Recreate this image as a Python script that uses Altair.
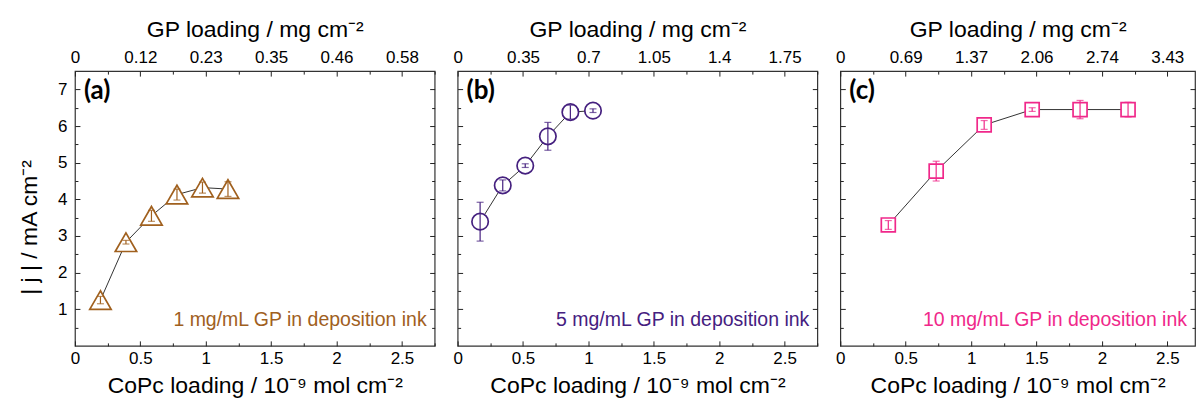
import altair as alt
import pandas as pd

# CoPc loading (1e-9 mol cm^-2), current density |j| (mA cm^-2) and error (+/-)
copc_a = [0.195, 0.39, 0.585, 0.78, 0.975, 1.17]
j_a = [1.25, 2.83, 3.55, 4.13, 4.32, 4.28]
err_a = [0.10, 0.05, 0.15, 0.15, 0.15, 0.20]

copc_b = [0.172, 0.345, 0.517, 0.69, 0.862, 1.035]
j_b = [3.39, 4.38, 4.92, 5.72, 6.38, 6.42]
err_b = [0.53, 0.15, 0.05, 0.38, 0.19, 0.05]

copc_c = [0.367, 0.733, 1.10, 1.467, 1.833, 2.20]
j_c = [3.30, 4.77, 6.03, 6.45, 6.45, 6.45]
err_c = [0.12, 0.27, 0.12, 0.05, 0.25, 0.20]

# bottom axis ticks (CoPc) and matching GP loading labels on the top axis
copc_ticks = [0, 0.5, 1, 1.5, 2, 2.5]
gp_labels_a = ["0", "0.12", "0.23", "0.35", "0.46", "0.58"]
gp_labels_b = ["0", "0.35", "0.7", "1.05", "1.4", "1.75"]
gp_labels_c = ["0", "0.69", "1.37", "2.06", "2.74", "3.43"]

j_ticks = [1, 2, 3, 4, 5, 6, 7]
copc_minor = [0.25, 0.75, 1.25, 1.75, 2.25, 2.75]
j_minor = [0.5, 1.5, 2.5, 3.5, 4.5, 5.5, 6.5]

tags = ["(a)", "(b)", "(c)"]
notes = ["1 mg/mL GP in deposition ink",
         "5 mg/mL GP in deposition ink",
         "10 mg/mL GP in deposition ink"]
colors = ["#A0601E", "#45207F", "#F0288A"]

FONT = "Liberation Sans"
H = 275
TICK = 5
MINOR = 3
INK = "#222222"


def table(x, y, e):
    return pd.DataFrame({"x": x, "y": y,
                         "lo": [a - b for a, b in zip(y, e)],
                         "hi": [a + b for a, b in zip(y, e)]})


def tick_axis(orient, values, size, **kw):
    return alt.Axis(orient=orient, values=values, domain=False, grid=False,
                    tickSize=size, offset=-size, tickColor=INK, tickWidth=1,
                    **kw)


def label_expr(labels):
    pairs = ", ".join(f"'{v}': '{l}'" for v, l in zip(copc_ticks, labels))
    return "({" + pairs + "})[format(datum.value, '')]"


def panel(df, color, shape, size, gp_labels, tag, note, first, width, xmax,
          right=True):
    xs = alt.Scale(domain=[0, xmax], nice=False, zero=False)
    ys = alt.Scale(domain=[0, 7.5], nice=False, zero=False)
    base = alt.Chart(df)

    bottom = tick_axis("bottom", copc_ticks, TICK, format="~g", labelFont=FONT,
                       labelFontSize=17, labelColor="black", labelPadding=5,
                       labelFlush=False,
                       title="CoPc loading / 10⁻⁹ mol cm⁻²", titleFont=FONT,
                       titleFontSize=23, titleFontWeight="normal",
                       titleColor="black", titlePadding=8)
    top = tick_axis("top", copc_ticks, TICK, labelFont=FONT, labelFontSize=17,
                    labelColor="black", labelPadding=5, labelFlush=False,
                    labelExpr=label_expr(gp_labels),
                    title="GP loading / mg cm⁻²", titleFont=FONT,
                    titleFontSize=23, titleFontWeight="normal",
                    titleColor="black", titlePadding=7)
    if first:
        left = tick_axis("left", j_ticks, TICK, labelFont=FONT,
                         labelFontSize=17, labelColor="black", labelPadding=8,
                         title="| j | / mA cm⁻²", titleFont=FONT,
                         titleFontSize=23, titleFontWeight="normal",
                         titleColor="black", titleX=-50, titleY=156,
                         titleAngle=270, titleAlign="center",
                         titleBaseline="middle")
    else:
        left = tick_axis("left", j_ticks, TICK, labels=False, title=None)
    right_major = tick_axis("right", j_ticks, TICK, labels=False, title=None) if right else None
    right_minor = tick_axis("right", j_minor, MINOR, labels=False, title=None) if right else None

    line = base.mark_line(color="#333333", strokeWidth=1).encode(
        x=alt.X("x:Q", scale=xs, axis=bottom),
        y=alt.Y("y:Q", scale=ys, axis=left))

    pts = base.mark_point(shape=shape, size=size, filled=True, fill="white",
                          stroke=color, strokeWidth=1.7, opacity=1).encode(
        x=alt.X("x:Q", scale=xs, axis=top),
        y=alt.Y("y:Q", scale=ys, axis=right_major))

    bars = base.mark_rule(color=color, strokeWidth=1.2).encode(
        x=alt.X("x:Q", scale=xs,
                axis=tick_axis("bottom", copc_minor, MINOR, labels=False, title=None)),
        y=alt.Y("lo:Q", scale=ys,
                axis=tick_axis("left", j_minor, MINOR, labels=False, title=None)),
        y2="hi:Q")

    caps = base.transform_fold(["lo", "hi"], as_=["end", "v"]).mark_tick(
        color=color, orient="horizontal", size=7, thickness=1.2).encode(
        x=alt.X("x:Q", scale=xs,
                axis=tick_axis("top", copc_minor, MINOR, labels=False, title=None)),
        y=alt.Y("v:Q", scale=ys, axis=right_minor))

    tag_text = alt.Chart(pd.DataFrame({"t": [tag]})).mark_text(
        font="Lato", fontWeight="bold", fontSize=26, align="left",
        baseline="middle", color="black").encode(
        text="t:N", x=alt.value(9), y=alt.value(20))

    note_text = alt.Chart(pd.DataFrame({"t": [note]})).mark_text(
        font=FONT, fontSize=19.5, align="right", baseline="alphabetic",
        color=color).encode(
        text="t:N", x=alt.value(width - 8), y=alt.value(H - 20))

    return alt.layer(line, pts, bars, caps, tag_text, note_text).resolve_axis(
        x="independent", y="independent").properties(width=width, height=H)


pa = panel(table(copc_a, j_a, err_a), colors[0], "triangle-up", 460,
           gp_labels_a, tags[0], notes[0], True, 360, 2.75)
pb = panel(table(copc_b, j_b, err_b), colors[1], "circle", 270,
           gp_labels_b, tags[1], notes[1], False, 360, 2.75)
pc = panel(table(copc_c, j_c, err_c), colors[2], "square", 196,
           gp_labels_c, tags[2], notes[2], False, 355, 2.75 * 355 / 360)

chart = alt.hconcat(pa, pb, pc, spacing=23, bounds="flush").properties(
    padding={"left": 18, "top": 17, "right": 0, "bottom": 0},
    background="white"
).configure_view(stroke="#333333", strokeWidth=1.2)

chart.save("out.html", embed_options={"renderer": "svg", "actions": False})
